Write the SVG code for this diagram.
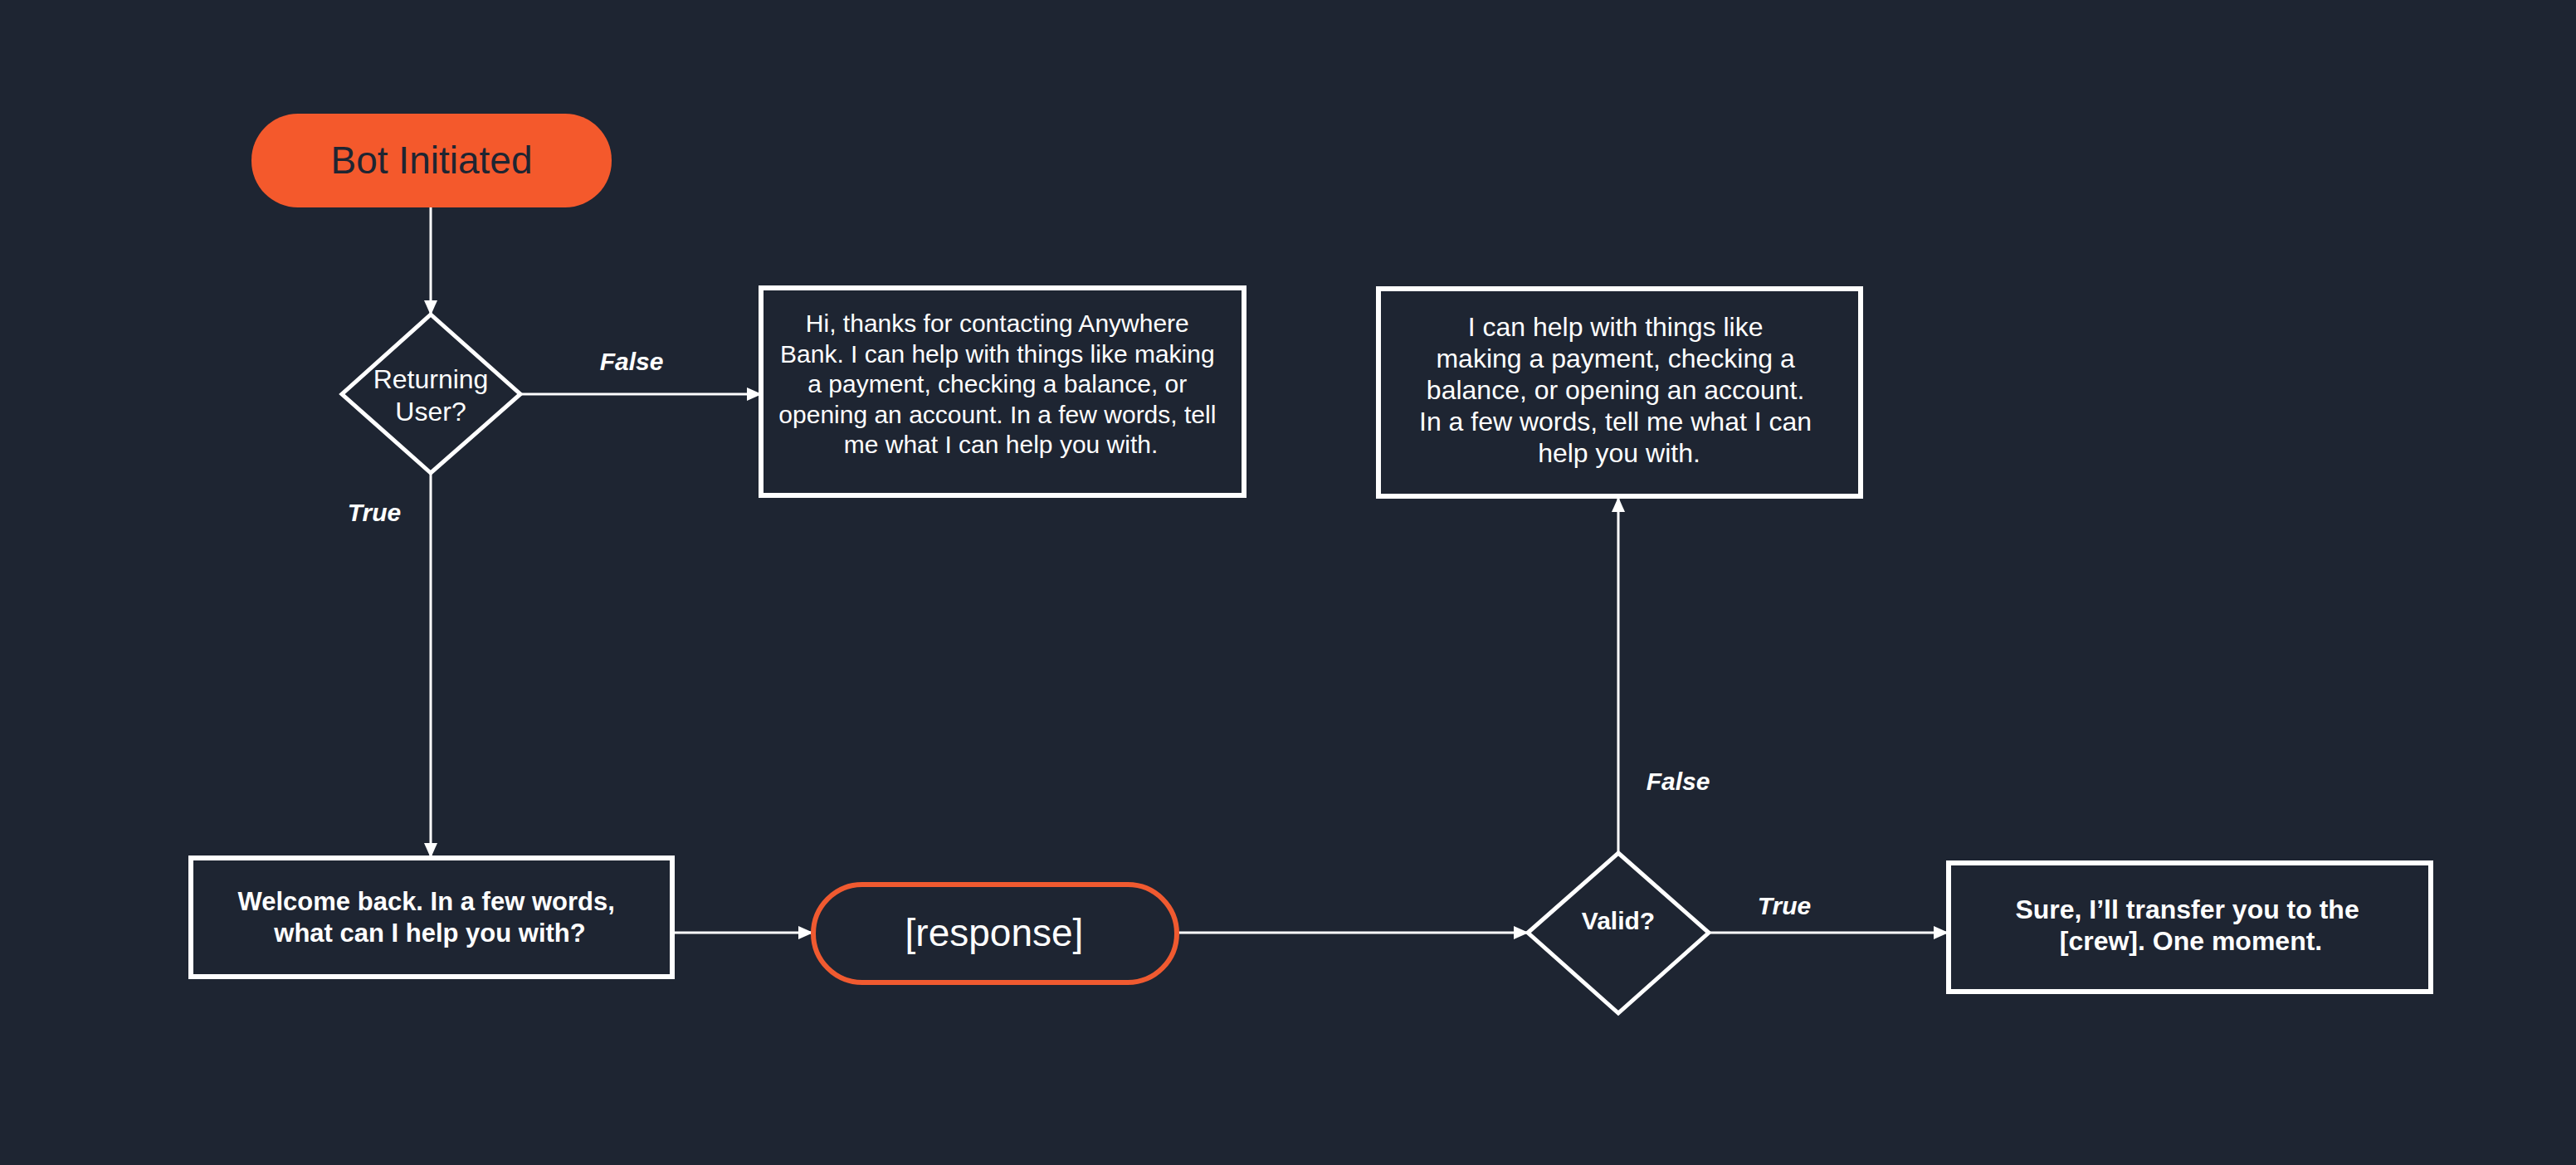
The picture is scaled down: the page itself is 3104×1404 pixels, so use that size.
<svg xmlns="http://www.w3.org/2000/svg" width="3104" height="1404" viewBox="0 0 3104 1404">
<defs>
<style>
.box{fill:#1e2532;stroke:#ffffff;stroke-width:6}
.dia{fill:#1e2532;stroke:#ffffff;stroke-width:5}
.conn{fill:none;stroke:#ffffff;stroke-width:3}
.t{font-family:"Liberation Sans",Arial,sans-serif;fill:#ffffff;text-anchor:middle}
.lbl{font-family:"Liberation Sans",Arial,sans-serif;fill:#ffffff;font-style:italic;font-weight:bold;font-size:30px}
</style>
<marker id="arr" markerUnits="userSpaceOnUse" markerWidth="18" markerHeight="16" refX="17" refY="8" orient="auto">
<path d="M0,0 L18,8 L0,16 Z" fill="#ffffff"/>
</marker>
</defs>
<rect width="3104" height="1404" fill="#1e2532"/>
<g id="connectors">
<line class="conn" x1="519" y1="250" x2="519" y2="379" marker-end="url(#arr)"/>
<line class="conn" x1="627" y1="475" x2="917" y2="475" marker-end="url(#arr)"/>
<line class="conn" x1="519" y1="570" x2="519" y2="1033" marker-end="url(#arr)"/>
<line class="conn" x1="812" y1="1124" x2="979" y2="1124" marker-end="url(#arr)"/>
<line class="conn" x1="1419" y1="1124" x2="1841" y2="1124" marker-end="url(#arr)"/>
<line class="conn" x1="1950" y1="1028" x2="1950" y2="600" marker-end="url(#arr)"/>
<line class="conn" x1="2059" y1="1124" x2="2347" y2="1124" marker-end="url(#arr)"/>
<text class="lbl" x="761" y="446" text-anchor="middle">False</text>
<text class="lbl" x="451" y="628" text-anchor="middle">True</text>
<text class="lbl" x="2022" y="952" text-anchor="middle">False</text>
<text class="lbl" x="2150" y="1102" text-anchor="middle">True</text>
</g>
<g id="bot-initiated">
<rect x="303" y="137" width="434" height="113" rx="56" fill="#f4592c"/>
<text class="t" x="520" y="209" font-size="46" style="fill:#1e2532">Bot Initiated</text>
</g>
<g id="returning-user">
<polygon class="dia" points="519,379 627,475 519,570 412,475"/>
<text class="t" x="519" y="468" font-size="32">Returning</text>
<text class="t" x="519" y="507" font-size="32">User?</text>
</g>
<g id="greeting-new">
<rect class="box" x="917" y="347" width="582" height="250"/>
<text class="t" font-size="30">
<tspan x="1206" y="400">Hi, thanks for contacting Anywhere</tspan>
<tspan x="1206" y="436.5">Bank. I can help with things like making</tspan>
<tspan x="1206" y="473">a payment, checking a balance, or</tspan>
<tspan x="1206" y="509.5">opening an account. In a few words, tell</tspan>
<tspan x="1206" y="546">me what I can help you with.</tspan>
</text>
</g>
<g id="welcome-back">
<rect class="box" x="230" y="1034" width="580" height="143"/>
<text class="t" font-size="31" font-weight="bold">
<tspan x="518" y="1097">Welcome back. In a few words,</tspan>
<tspan x="518" y="1135">what can I help you with?</tspan>
</text>
</g>
<g id="response">
<rect x="980" y="1066" width="438" height="118" rx="59" fill="#1e2532" stroke="#f05a30" stroke-width="6"/>
<text class="t" x="1198" y="1140" font-size="46">[response]</text>
</g>
<g id="valid">
<polygon class="dia" points="1950,1028 2059,1124 1950,1221 1841,1124"/>
<text class="t" x="1950" y="1120" font-size="30" font-weight="bold">Valid?</text>
</g>
<g id="reprompt">
<rect class="box" x="1661" y="348" width="581" height="250"/>
<text class="t" font-size="32">
<tspan x="1951" y="405">I can help with things like</tspan>
<tspan x="1951" y="443">making a payment, checking a</tspan>
<tspan x="1951" y="481">balance, or opening an account.</tspan>
<tspan x="1951" y="519">In a few words, tell me what I can</tspan>
<tspan x="1951" y="557">help you with.</tspan>
</text>
</g>
<g id="transfer">
<rect class="box" x="2348" y="1040" width="581" height="155"/>
<text class="t" font-size="32" font-weight="bold">
<tspan x="2640" y="1107">Sure, I’ll transfer you to the</tspan>
<tspan x="2640" y="1145">[crew]. One moment.</tspan>
</text>
</g>
</svg>
